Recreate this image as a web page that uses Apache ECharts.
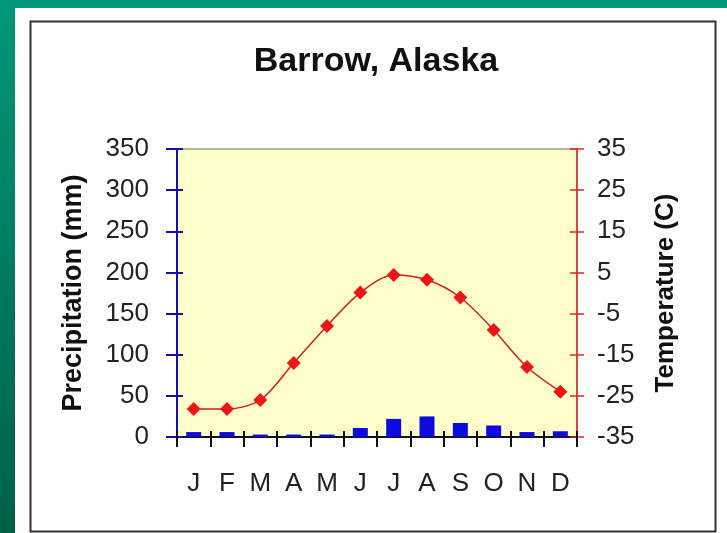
<!DOCTYPE html>
<html>
<head>
<meta charset="utf-8">
<script src="https://cdn.jsdelivr.net/npm/echarts@6/dist/echarts.min.js"></script>
<style>
html,body{margin:0;padding:0;}
#chart{width:727px;height:533px;}
</style>
</head>
<body>
<div id="chart"></div>
<script>
const months = ['J','F','M','A','M','J','J','A','S','O','N','D'];
const precipitation = [6, 6, 3, 3, 3, 11, 22, 25, 17, 14, 6, 7];
const temperature = [-28.2, -28.2, -26.0, -17.0, -8.0, 0.1, 4.4, 3.2, -1.1, -9.0, -18.0, -24.0];
const titleText = 'Barrow, Alaska';
const leftAxisName = 'Precipitation (mm)';
const rightAxisName = 'Temperature (C)';

const FONT = '"Liberation Sans", Arial, sans-serif';
const chart = echarts.init(document.getElementById('chart'), null, {renderer: 'canvas'});

const option = {
  backgroundColor: {
    type: 'linear', x: 0, y: 0, x2: 0, y2: 1,
    colorStops: [{offset: 0, color: '#00977a'}, {offset: 1, color: '#005f47'}]
  },
  animation: false,
  graphic: [
    {type: 'rect', left: 15, top: 8, shape: {width: 712, height: 525}, style: {fill: '#ffffff'}, z: -10},
    {type: 'rect', left: 28, top: 19, shape: {width: 685, height: 510}, style: {fill: 'none', stroke: '#333333', lineWidth: 2}, z: -9}
  ],
  title: {
    text: titleText,
    left: 371,
    top: 40,
    textAlign: 'center',
    textStyle: {fontFamily: FONT, fontWeight: 'bold', fontSize: 34, color: '#111'}
  },
  grid: {
    left: 177, right: 150, top: 149, bottom: 96,
    show: true, backgroundColor: '#ffffcc', borderColor: '#6f6f5a', borderWidth: 1
  },
  xAxis: [
    {
      type: 'category', data: months, position: 'bottom',
      axisLine: {lineStyle: {color: '#111', width: 2}},
      axisTick: {show: true, length: 10, lineStyle: {color: '#111', width: 2}},
      axisLabel: {fontFamily: FONT, fontSize: 26, color: '#222', margin: 34},
      splitLine: {show: false}
    },
    {
      type: 'category', data: months, position: 'bottom', offset: 0,
      axisLine: {show: false},
      axisTick: {show: true, inside: true, length: 6, lineStyle: {color: '#111', width: 2}},
      axisLabel: {show: false},
      splitLine: {show: false},
      z: 10
    }
  ],
  yAxis: [
    {
      type: 'value', position: 'left', min: 0, max: 350, interval: 50,
      name: leftAxisName, nameLocation: 'middle', nameGap: 90, nameRotate: 90,
      nameTextStyle: {fontFamily: FONT, fontWeight: 'bold', fontSize: 27, color: '#111'},
      axisLine: {show: true, lineStyle: {color: '#1010b0', width: 2}},
      axisTick: {show: true, length: 11, lineStyle: {color: '#1010b0', width: 2}},
      axisLabel: {fontFamily: FONT, fontSize: 26, color: '#222', margin: 28},
      splitLine: {show: false}
    },
    {
      type: 'value', position: 'left', min: 0, max: 350, interval: 50,
      axisLine: {show: false},
      axisTick: {show: true, inside: true, length: 6, lineStyle: {color: '#1010b0', width: 2}},
      axisLabel: {show: false},
      splitLine: {show: false}
    },
    {
      type: 'value', position: 'right', min: -35, max: 35, interval: 10,
      name: rightAxisName, nameLocation: 'middle', nameGap: 76, nameRotate: 90,
      nameTextStyle: {fontFamily: FONT, fontWeight: 'bold', fontSize: 26, color: '#111'},
      axisLine: {show: true, lineStyle: {color: '#e02525', width: 1.5}},
      axisTick: {show: true, length: 7, lineStyle: {color: '#e02525', width: 1.5}},
      axisLabel: {fontFamily: FONT, fontSize: 26, color: '#222', margin: 20},
      splitLine: {show: false}
    },
    {
      type: 'value', position: 'right', min: -35, max: 35, interval: 10,
      axisLine: {show: false},
      axisTick: {show: true, inside: true, length: 7, lineStyle: {color: '#e02525', width: 1.5}},
      axisLabel: {show: false},
      splitLine: {show: false}
    }
  ],
  series: [
    {
      type: 'bar', xAxisIndex: 0, yAxisIndex: 0, data: precipitation,
      barWidth: 15, itemStyle: {color: '#0b0be0'}, z: 3
    },
    {
      type: 'line', xAxisIndex: 0, yAxisIndex: 2, data: temperature,
      smooth: 0.3, symbol: 'diamond', symbolSize: 14,
      lineStyle: {color: '#c82020', width: 1.5},
      itemStyle: {color: '#ee1515'}, z: 4
    }
  ]
};
chart.setOption(option);
</script>
</body>
</html>
